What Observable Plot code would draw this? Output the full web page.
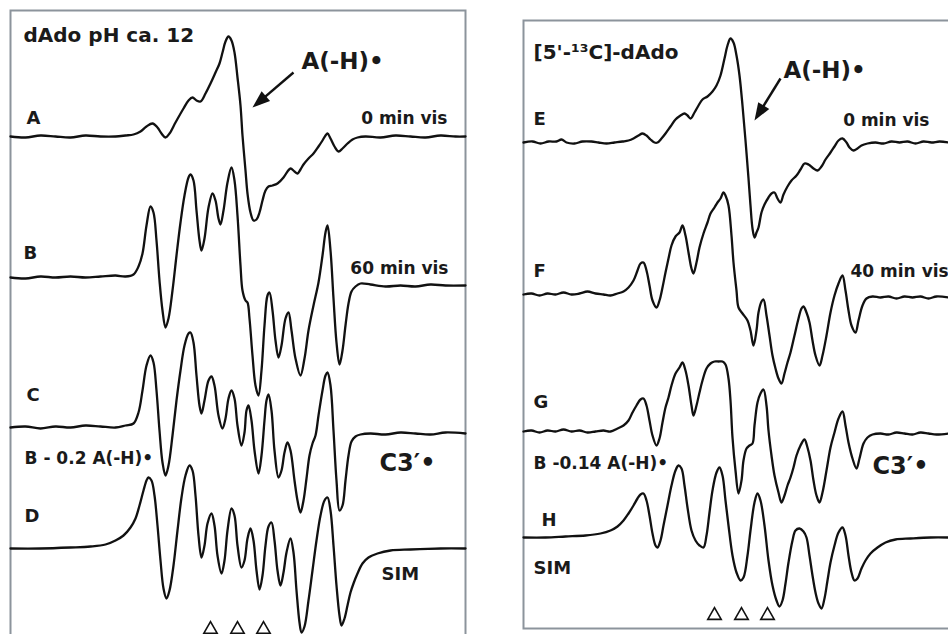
<!DOCTYPE html>
<html><head><meta charset="utf-8">
<script src="https://cdn.jsdelivr.net/npm/d3@7"></script>
<script src="https://cdn.jsdelivr.net/npm/@observablehq/plot@0.6"></script>
<style>
html,body{margin:0;padding:0;background:#fff;}
body{width:948px;height:634px;overflow:hidden;position:relative;}
.panel{position:absolute;}
.panel svg{max-width:none;overflow:visible;}
</style></head><body>
<div id="left" class="panel" style="left:9px;top:9px;"></div>
<div id="right" class="panel" style="left:522px;top:19px;"></div>
<script>
// ---- Left panel: dAdo pH ca. 12 (field position, signal level) ----
const traceA = [[10,136],[25,137],[40,135],[55,136],[70,137],[85,135],[100,136],[115,136],[125,135],[133,134],[140,131],[146,126],[152,123],[157,127],[161,133],[165,137],[169,133],[175,122],[183,108],[188,100],[192,97],[196,100],[200,101],[205,93],[210,83],[215,72],[219,63],[222,52],[225,41],[228,36],[231,40],[234,52],[237,77],[240,105],[242,135],[245,170],[247,193],[250,212],[253,220],[256,219],[259,212],[262,200],[265,190],[268,186],[272,185],[277,183],[283,177],[287,171],[290,168],[294,171],[297,173],[300,169],[303,164],[308,158],[313,153],[318,146],[322,140],[325,135],[327,133],[330,138],[334,146],[338,151],[342,148],[347,143],[352,139],[357,137],[365,136],[380,137],[395,135],[410,136],[425,137],[440,135],[455,136],[465,136]];
const traceB = [[10,277],[25,278],[40,276],[55,277],[70,276],[85,277],[100,276],[115,275],[125,276],[133,274],[138,266],[142,253],[146,225],[150,206],[153,212],[156,240],[159,280],[162,310],[165,327],[168,318],[172,290],[176,255],[180,222],[184,195],[188,177],[190,174],[193,180],[196,210],[199,240],[201,250],[204,238],[208,207],[212,193],[215,200],[218,218],[220,224],[223,210],[227,182],[231,167],[234,180],[237,215],[240,265],[242,290],[245,300],[247,302],[249,318],[252,355],[255,385],[258,395],[261,370],[264,325],[267,295],[269,292],[272,310],[275,340],[278,357],[281,345],[285,318],[288,312],[291,330],[295,358],[300,375],[304,358],[308,330],[313,305],[318,282],[322,255],[325,232],[327,225],[330,250],[333,298],[336,342],[339,364],[342,350],[345,325],[348,303],[351,291],[355,286],[360,283],[370,284],[385,286],[400,285],[415,286],[430,284],[445,285],[465,285]];
const traceC = [[10,427],[25,426],[40,428],[55,426],[70,427],[85,425],[100,426],[115,427],[125,425],[133,423],[138,412],[142,390],[146,365],[150,355],[153,362],[156,390],[159,430],[162,462],[165,475],[168,465],[172,435],[176,400],[180,370],[184,345],[188,333],[190,332],[193,342],[196,375],[199,405],[201,413],[204,400],[208,380],[211,376],[214,385],[218,415],[222,428],[225,418],[228,398],[231,390],[234,398],[237,425],[241,445],[244,432],[246,410],[248,405],[251,420],[254,450],[258,473],[261,455],[264,420],[266,400],[268,394],[271,410],[274,450],[278,477],[281,470],[284,452],[287,442],[290,450],[294,480],[297,500],[300,512],[303,500],[306,478],[309,455],[312,443],[315,435],[318,415],[322,390],[325,375],[327,372],[330,385],[333,430],[336,480],[339,510],[342,505],[345,480],[348,455],[351,441],[355,436],[360,434],[370,433],[385,434],[400,432],[415,433],[430,434],[445,432],[465,433]];
const traceD = [[10,548],[40,548],[70,547],[90,546],[105,544],[115,540],[123,535],[130,527],[135,518],[139,505],[143,490],[146,480],[148,477],[151,480],[154,495],[157,525],[160,560],[163,588],[166,598],[169,590],[173,565],[177,530],[181,497],[185,475],[189,465],[192,470],[195,495],[198,535],[201,557],[204,545],[207,523],[211,513],[214,525],[217,555],[221,573],[224,560],[227,530],[231,508],[234,515],[237,545],[241,567],[244,560],[247,538],[250,528],[253,540],[256,570],[259,589],[262,575],[265,545],[268,526],[271,522],[274,540],[277,570],[280,585],[283,572],[286,552],[290,538],[293,552],[296,590],[299,622],[301,632],[304,626],[308,600],[312,570],[316,540],[320,515],[324,500],[327,497],[330,510],[333,545],[336,585],[339,615],[341,625],[344,618],[347,605],[350,592],[353,583],[357,573],[362,563],[368,557],[377,553],[390,550],[410,549],[440,548],[465,548]];

// ---- Right panel: [5'-13C]-dAdo ----
const traceE = [[523,142],[532,141],[540,143],[548,141],[556,141],[561,139],[566,142],[574,143],[582,141],[591,141],[598,142],[606,143],[614,142],[622,141],[628,140],[633,138],[638,135],[642,133],[646,135],[650,139],[654,142],[657,142],[661,138],[665,133],[670,126],[675,119],[680,115],[684,113],[687,115],[690,118],[694,112],[698,105],[702,99],[707,96],[712,91],[716,85],[720,75],[724,58],[727,45],[730,38],[733,42],[736,55],[739,75],[742,105],[745,140],[748,178],[750,205],[752,228],[754,237],[756,232],[758,227],[761,212],[764,204],[768,197],[771,193],[774,192],[777,198],[780,202],[783,194],[787,186],[791,180],[796,175],[800,169],[804,163],[808,164],[813,168],[817,170],[821,166],[825,159],[830,152],[834,146],[838,140],[842,138],[846,142],[849,147],[853,150],[857,148],[861,145],[867,143],[875,142],[883,143],[891,141],[899,142],[907,141],[915,143],[923,141],[931,142],[939,141],[948,142]];
const traceF = [[523,294],[531,293],[539,295],[547,293],[555,294],[563,292],[571,294],[579,293],[587,291],[595,293],[603,294],[610,295],[617,293],[623,291],[628,287],[633,280],[637,270],[640,263],[643,262],[646,270],[649,285],[652,300],[656,307],[659,300],[662,287],[665,272],[668,258],[671,245],[675,236],[679,232],[682,225],[685,235],[688,252],[691,268],[693,273],[696,262],[699,247],[703,233],[707,222],[710,213],[714,207],[717,202],[720,198],[723,192],[725,195],[728,205],[731,235],[733,262],[736,290],[738,307],[742,313],[747,320],[750,330],[753,345],[756,330],[758,312],[761,301],[763,299],[766,315],[769,335],[772,355],[775,368],[778,378],[781,383],[784,373],[787,362],[790,352],[794,335],[798,318],[801,308],[803,306],[806,312],[809,322],[812,340],[815,355],[819,365],[822,355],[826,335],[830,312],[834,295],[838,283],[842,275],[845,290],[848,310],[851,325],[855,332],[858,320],[862,305],[866,298],[872,296],[880,297],[888,296],[896,298],[904,296],[912,297],[920,296],[928,298],[936,296],[948,297]];
const traceG = [[523,431],[531,430],[539,432],[547,430],[555,431],[563,429],[571,431],[579,430],[587,432],[595,431],[603,430],[610,431],[617,428],[623,425],[628,420],[632,412],[636,405],[640,399],[643,398],[646,405],[649,420],[652,435],[656,445],[659,438],[662,422],[665,407],[668,397],[671,385],[675,373],[679,367],[682,362],[685,370],[688,385],[691,405],[693,415],[696,405],[699,392],[702,380],[706,368],[710,363],[714,361],[718,361],[722,361],[725,364],[728,378],[730,400],[732,437],[735,470],[738,493],[741,480],[743,460],[746,448],[749,445],[752,443],[754,425],[757,402],[760,393],[763,389],[766,405],[768,430],[771,455],[774,475],[778,492],[781,502],[784,495],[787,485],[790,477],[793,467],[796,455],[800,445],[804,439],[807,447],[810,460],[813,480],[816,495],[819,502],[822,492],[826,470],[830,447],[834,432],[838,418],[842,411],[845,425],[848,442],[852,458],[856,468],[859,458],[863,443],[867,437],[872,434],[880,433],[888,434],[896,432],[904,433],[912,434],[920,432],[928,433],[936,434],[948,433]];
const traceH = [[523,537],[545,537],[565,536],[585,535],[600,533],[610,530],[617,526],[623,520],[628,513],[633,505],[637,498],[640,494],[643,493],[646,500],[649,515],[652,533],[655,545],[657,547],[660,540],[663,525],[667,505],[671,485],[675,470],[678,465],[681,468],[684,485],[687,507],[691,530],[695,540],[699,545],[703,547],[706,535],[709,512],[712,490],[716,472],[719,467],[722,475],[725,500],[728,525],[732,555],[736,572],[740,580],[743,577],[747,555],[750,530],[754,502],[757,493],[760,500],[764,525],[768,560],[772,585],[776,600],[779,606],[782,600],[785,583],[788,562],[792,540],[795,530],[799,528],[803,531],[806,537],[809,555],[812,575],[815,592],[818,603],[821,608],[824,598],[827,580],[830,562],[834,545],[838,532],[842,527],[845,535],[848,555],[851,572],[854,580],[857,578],[861,568],[865,560],[870,553],[877,547],[885,542],[895,539],[910,538],[930,537],[948,537]];

// Marked line positions (open triangles) and arrows
const marksLeft = [210, 237, 263];
const marksRight = [714, 741, 767];
const arrowLeft = {x1: 293, y1: 72, x2: 252, y2: 107};
const arrowRight = {x1: 780, y1: 78, x2: 754, y2: 120};

// Annotation texts
const labelsLeft = [
  {text: "dAdo pH ca. 12", x: 23, y: 41, kind: "title"},
  {text: "A(-H)•", x: 301, y: 68, kind: "species"},
  {text: "A", x: 26, y: 123, kind: "trace"},
  {text: "0 min vis", x: 447, y: 123, kind: "timeEnd"},
  {text: "B", x: 23, y: 258, kind: "trace"},
  {text: "60 min vis", x: 448, y: 273, kind: "timeEnd"},
  {text: "C", x: 26, y: 400, kind: "trace"},
  {text: "B - 0.2 A(-H)•", x: 24, y: 463, kind: "note"},
  {text: "C3′•", x: 379, y: 470, kind: "radical"},
  {text: "D", x: 24, y: 521, kind: "trace"},
  {text: "SIM", x: 381, y: 579, kind: "trace"}
];
const labelsRight = [
  {text: "[5'-¹³C]-dAdo", x: 533, y: 58, kind: "title"},
  {text: "A(-H)•", x: 783, y: 77, kind: "species"},
  {text: "E", x: 533, y: 124, kind: "trace"},
  {text: "0 min vis", x: 929, y: 125, kind: "timeEnd"},
  {text: "F", x: 533, y: 276, kind: "trace"},
  {text: "40 min vis", x: 850, y: 276, kind: "time"},
  {text: "G", x: 533, y: 407, kind: "trace"},
  {text: "B -0.14 A(-H)•", x: 533, y: 468, kind: "note"},
  {text: "C3′•", x: 872, y: 473, kind: "radical"},
  {text: "H", x: 541, y: 525, kind: "trace"},
  {text: "SIM", x: 533, y: 573, kind: "trace"}
];

// ---- styling ----
const INK = "#111";
const FONT = "DejaVu Sans, Arial, sans-serif";
const textStyle = {
  title:   {fontSize: 20, textAnchor: "start"},
  species: {fontSize: 23, textAnchor: "start"},
  trace:   {fontSize: 18, textAnchor: "start"},
  time:    {fontSize: 17, textAnchor: "start"},
  timeEnd: {fontSize: 17, textAnchor: "end"},
  note:    {fontSize: 17, textAnchor: "start"},
  radical: {fontSize: 24, textAnchor: "start"}
};
// arrowhead symbol with its tip at the anchor point
const arrowHead = {draw(ctx, size) {
  const r = Math.sqrt(size / Math.PI);
  ctx.moveTo(0, 0); ctx.lineTo(-r, 2.7 * r); ctx.lineTo(r, 2.7 * r); ctx.closePath();
}};

function traceMark(data) {
  return Plot.line(data, {x: d => d[0], y: d => d[1], curve: "catmull-rom",
    stroke: INK, strokeWidth: 2.3, strokeLinejoin: "round", strokeLinecap: "round"});
}
function labelMarks(labels) {
  return labels.map(l => Plot.text([l], {x: "x", y: "y", text: "text",
    fontFamily: FONT, fontWeight: "bold", fill: "#1a1a1a", lineAnchor: "bottom",
    ...textStyle[l.kind]}));
}
function arrowMarks(a) {
  const dx = a.x2 - a.x1, dy = a.y2 - a.y1, len = Math.hypot(dx, dy);
  const angle = Math.atan2(dx, -dy) * 180 / Math.PI;
  return [
    Plot.link([a], {x1: "x1", y1: "y1", x2: d => d.x2 - 8 * dx / len, y2: d => d.y2 - 8 * dy / len,
      stroke: INK, strokeWidth: 2.4}),
    Plot.dot([a], {x: "x2", y: "y2", symbol: arrowHead, r: 6.5, rotate: angle, fill: INK, stroke: "none"})
  ];
}
function triMarks(xs, y) {
  return Plot.dot(xs, {x: d => d, y: () => y, symbol: "triangle", r: 5,
    fill: "white", stroke: INK, strokeWidth: 1.6});
}

const frameColor = "#8c949c";

const left = Plot.plot({
  width: 457, height: 642, margin: 1,
  x: {domain: [10, 465], axis: null},
  y: {domain: [650, 10], axis: null},
  style: {overflow: "visible", background: "transparent"},
  marks: [
    Plot.frame({stroke: frameColor, strokeWidth: 2}),
    ...[traceA, traceB, traceC, traceD].map(traceMark),
    ...arrowMarks(arrowLeft),
    triMarks(marksLeft, 629),
    ...labelMarks(labelsLeft)
  ]
});
document.getElementById("left").appendChild(left);

const right = Plot.plot({
  width: 442, height: 610, margin: 1,
  x: {domain: [523, 963], axis: null},
  y: {domain: [628, 20], axis: null},
  style: {overflow: "visible", background: "transparent"},
  marks: [
    Plot.frame({stroke: frameColor, strokeWidth: 2}),
    ...[traceE, traceF, traceG, traceH].map(traceMark),
    ...arrowMarks(arrowRight),
    triMarks(marksRight, 615),
    ...labelMarks(labelsRight)
  ]
});
document.getElementById("right").appendChild(right);
</script></body></html>
